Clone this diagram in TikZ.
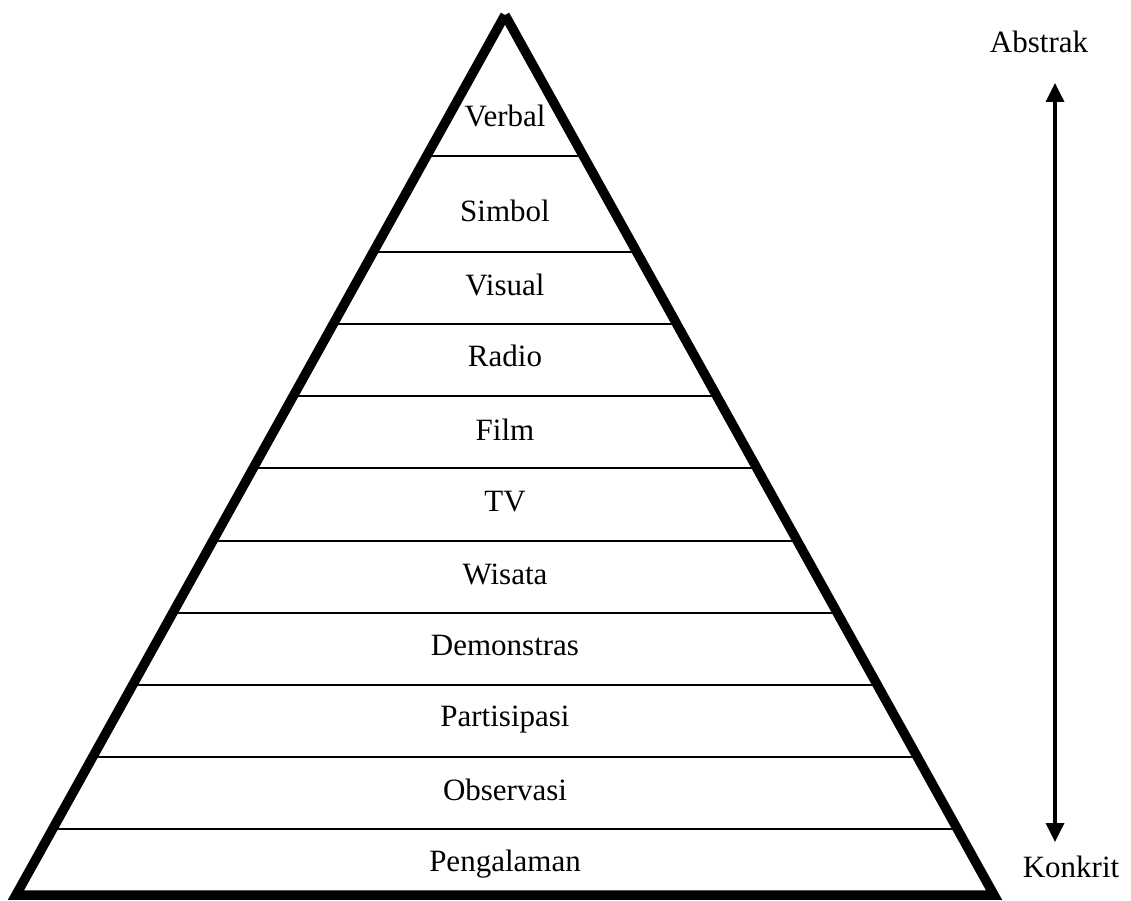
\documentclass[tikz,border=0pt]{standalone}
\usepackage{fontspec}
\setmainfont{Liberation Serif}
\usetikzlibrary{arrows.meta}
\begin{document}
\begin{tikzpicture}[x=1pt,y=-1pt,
  frame/.style={line width=9.5pt,line join=miter,line cap=butt},
  divider/.style={line width=1.6pt},
  lbl/.style={anchor=base,inner sep=0pt,font=\fontsize{31}{37}\selectfont},
  levelarrow/.style={line width=3.5pt,{Triangle[length=19pt,width=18pt]}-{Triangle[length=19pt,width=18pt]}}]
\useasboundingbox (0,0) rectangle (1131,901);
% corners of the pyramid
\coordinate (top) at (505,15);
\coordinate (bl) at (16,895);
\coordinate (br) at (994,895);
% band dividers, each spanning the width of the pyramid at its height
\foreach \y [count=\i] in {156,252,324,396,468,541,613,685,757,829}{
  \pgfmathsetmacro{\dx}{0.5557*(\y-15)}
  \coordinate (l\i) at ({505-\dx},\y);
  \coordinate (r\i) at ({505+\dx},\y);
  \draw[divider] (l\i) -- (r\i);
}
\draw[frame] (top) -- (bl) -- (br) -- (top);
% band labels
\node[lbl] (verbal) at (505,127) {Verbal};
\node[lbl] (simbol) at (505,222) {Simbol};
\node[lbl] (visual) at (505,295) {Visual};
\node[lbl] (radio) at (505,366) {Radio};
\node[lbl] (film) at (505,440) {Film};
\node[lbl] (tv) at (505,511) {TV};
\node[lbl] (wisata) at (505,584) {Wisata};
\node[lbl] (demo) at (505,655) {Demonstras};
\node[lbl] (partisipasi) at (505,726) {Partisipasi};
\node[lbl] (observasi) at (505,800) {Observasi};
\node[lbl] (pengalaman) at (505,871) {Pengalaman};
% abstract-concrete scale
\node[lbl] (abstrak) at (1039,53) {Abstrak};
\node[lbl] (konkrit) at (1071,877) {Konkrit};
\coordinate (s1) at (1055,83);
\coordinate (s2) at (1055,842);
\draw[levelarrow] (s1) -- (s2);
\end{tikzpicture}
\end{document}
